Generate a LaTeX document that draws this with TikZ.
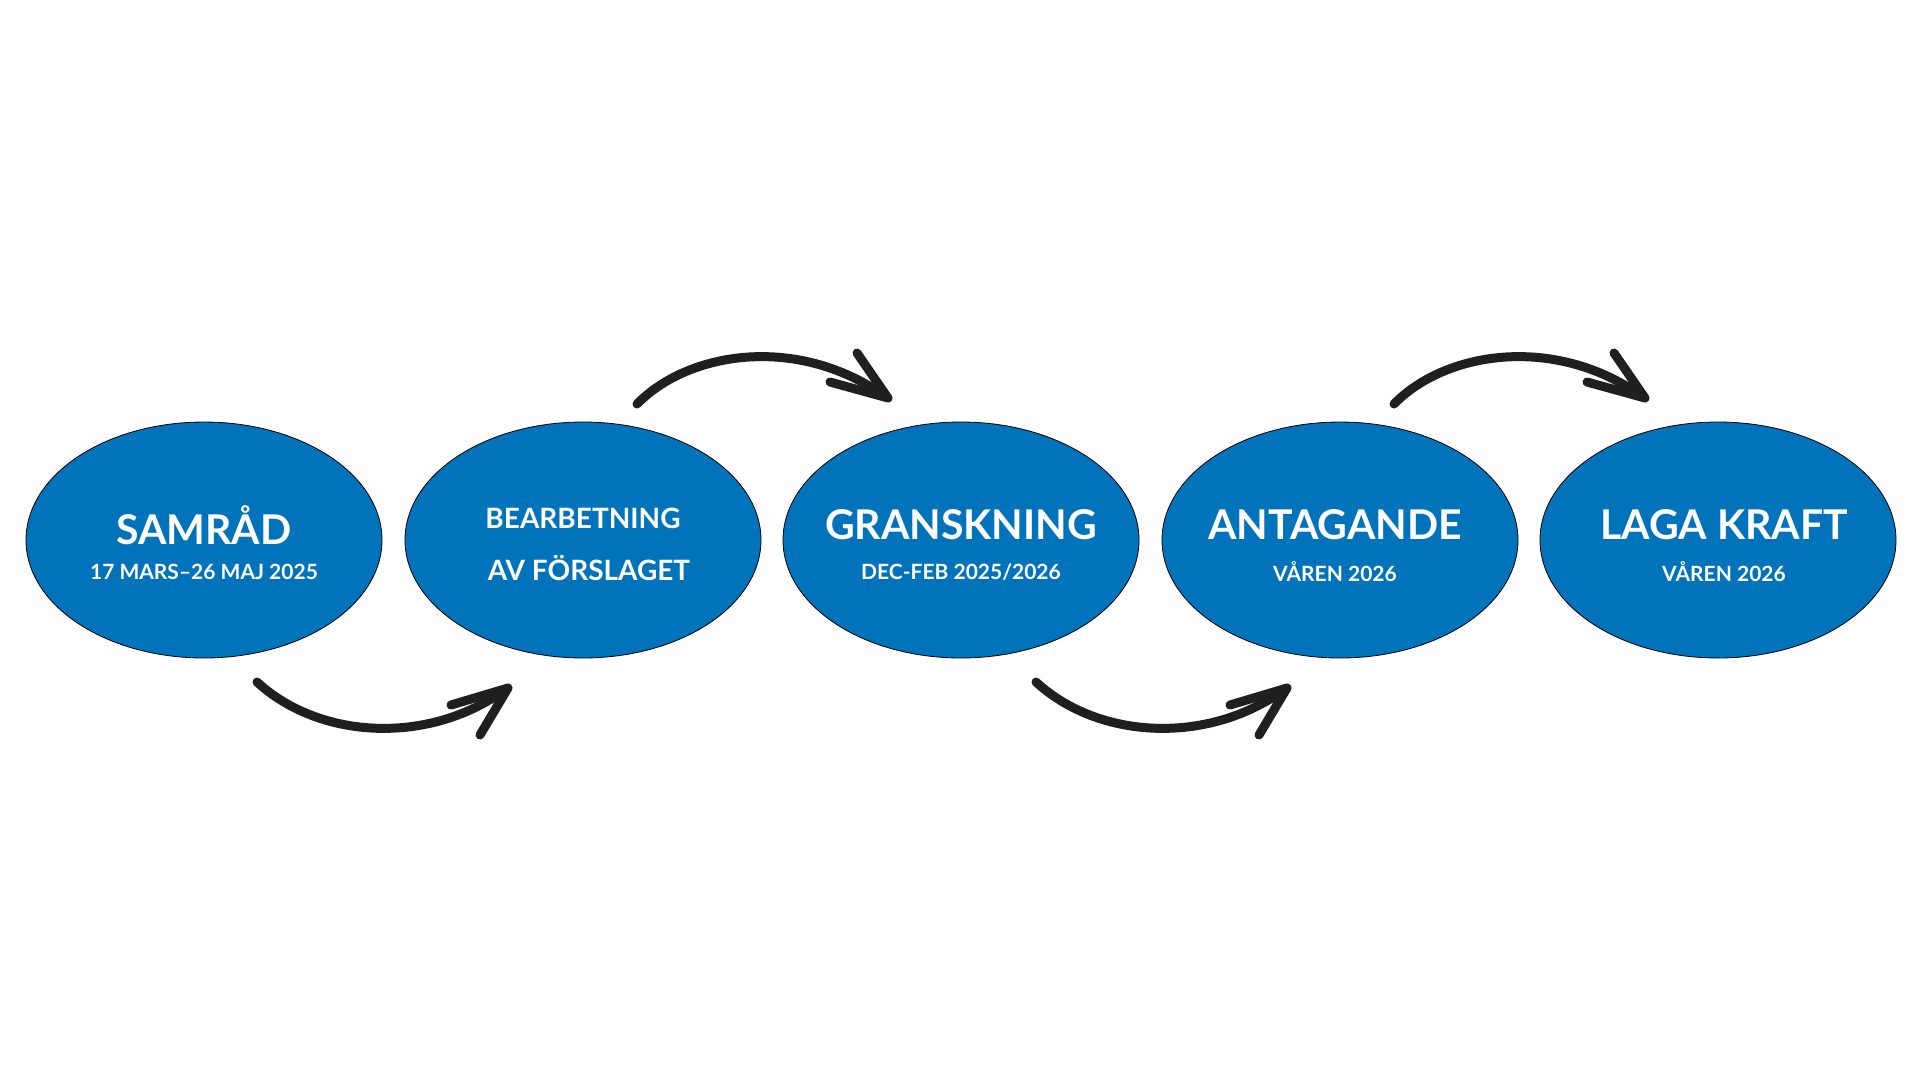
\documentclass[tikz,border=0pt]{standalone}
\usepackage{fontspec}
\setmainfont{Lato}
\begin{document}
\begin{tikzpicture}[x=1pt,y=-1pt,
  blob/.style={draw=black,line width=0.8pt,fill=blueE,ellipse,minimum width=356pt,minimum height=236pt,inner sep=0pt},
  ttl/.style={text=white,font=\fontsize{41}{44}\selectfont\bfseries},
  sub/.style={text=white,font=\fontsize{21}{24}\selectfont\bfseries},
  mid/.style={text=white,font=\fontsize{28}{30}\selectfont\bfseries},
  arr/.style={line width=9pt,line cap=round,line join=round,draw=black!88}]
\definecolor{blueE}{RGB}{0,115,187}
\useasboundingbox (0,0) rectangle (1920,1080);
\fill[white] (0,0) rectangle (1920,1080);
\usetikzlibrary{shapes.geometric}
\foreach \n/\x in {a/204,b/583,c/961,d/1340,e/1718}{
  \draw[draw=black,line width=0.8pt,fill=blueE] (\x,540) ellipse [x radius=178,y radius=118];
  \coordinate (\n) at (\x,540);
}
\node[ttl] (t1) at (204,525) {SAMRÅD};
\node[sub] (s1) at (204,572) {17 MARS–26 MAJ 2025};
\node[mid] (t2) at (583,518) {BEARBETNING};
\node[mid] (s2) at (589,568) {AV FÖRSLAGET};
\node[ttl] (t3) at (961,525) {GRANSKNING};
\node[sub] (s3) at (961,572) {DEC-FEB 2025/2026};
\node[ttl] (t4) at (1335,525) {ANTAGANDE};
\node[sub] (s4) at (1335,572) {VÅREN 2026};
\node[ttl] (t5) at (1724,525) {LAGA KRAFT};
\node[sub] (s5) at (1724,572) {VÅREN 2026};
\foreach \dx in {0,779}{
  \begin{scope}[shift={(\dx,0)}]
  \draw[arr] (257,682) .. controls (320,740) and (430,745) .. (506,689);
  \draw[arr] (451,705) -- (508,688) -- (480,735);
  \end{scope}
}
\foreach \dx in {0,757}{
  \begin{scope}[shift={(\dx,0)}]
  \draw[arr] (637,404) .. controls (690,350) and (800,335) .. (886,397);
  \draw[arr] (857,353) -- (888,398) -- (830,382);
  \end{scope}
}
\end{tikzpicture}
\end{document}
